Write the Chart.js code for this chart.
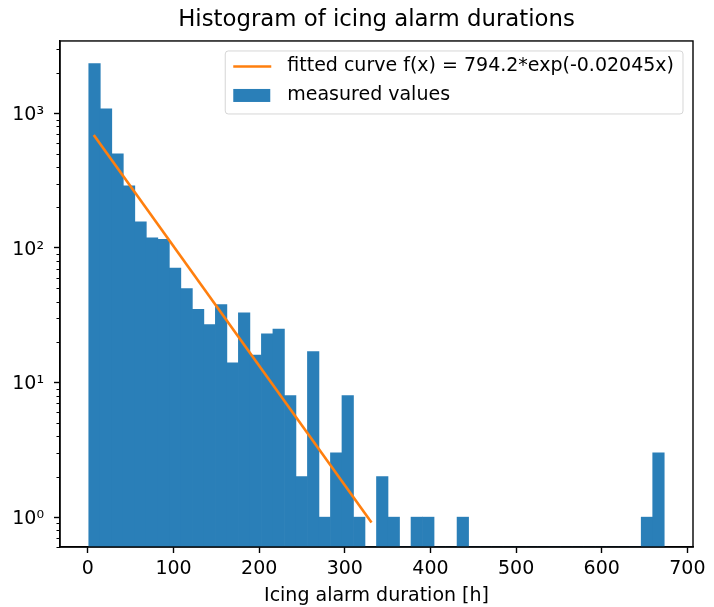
<html>
<head>
    <meta charset="utf-8" />
    <title>Histogram of icing alarm durations</title>
    <script src="https://cdn.jsdelivr.net/npm/chart.js"></script>
    <style>
        body { margin: 0; background: #fff; }
    </style>
</head>
<body>
<canvas id="hist" width="714" height="607"></canvas>

<script>
    // 50 bins between shortest and longest alarm [h]
    const binMin = 1;
    const binMax = 673;
    const counts = [
        2340, 1080, 500, 290, 156, 119, 116, 71, 50, 35,
        27, 38, 14, 33, 16, 23, 25, 8, 2, 17,
        1, 3, 8, 1, 0, 2, 1, 0, 1, 1,
        0, 0, 1, 0, 0, 0, 0, 0, 0, 0,
        0, 0, 0, 0, 0, 0, 0, 0, 1, 3
    ];

    // fitted curve, end points
    const curveX = [7.7, 330.3];
    const curveY = [678, 0.93];

    const xTicks = [0, 100, 200, 300, 400, 500, 600, 700];
    const yTicks = [1, 10, 100, 1000];
    const yTickLabels = ['10⁰', '10¹', '10²', '10³'];
    const yMin = 0.613;
    const yMax = 3450;

    const blue = '#2a7fb8';
    const orange = '#ff7f0e';

    Chart.defaults.font.family = "'DejaVu Sans'";
    Chart.defaults.color = '#000';

    const binWidth = (binMax - binMin) / counts.length;
    const margin = (binMax - binMin) * 0.05;

    const bars = counts.map((c, i) => ({x: binMin + (i + 0.5) * binWidth, y: c}));
    const curve = curveX.map((x, i) => ({x: x, y: curveY[i]}));

    // box around the plot, minor log ticks and the legend inside the axes
    const decorations = {
        id: 'decorations',
        afterDatasetsDraw(chart) {
            const c = chart.ctx;
            const area = chart.chartArea;
            const y = chart.scales.y;
            c.save();

            c.strokeStyle = '#000';
            c.lineWidth = 1;
            for (let k = -1; k <= 3; k++) {
                for (let m = 2; m <= 9; m++) {
                    const v = m * Math.pow(10, k);
                    if (v < y.min || v > y.max) continue;
                    const py = Math.round(y.getPixelForValue(v)) + 0.5;
                    c.beginPath();
                    c.moveTo(area.left - 3.5, py);
                    c.lineTo(area.left, py);
                    c.stroke();
                }
            }

            c.lineWidth = 1.4;
            c.strokeRect(area.left, area.top, area.right - area.left, area.bottom - area.top);

            c.font = "19px 'DejaVu Sans'";
            const sets = chart.data.datasets;
            const textW = Math.max(...sets.map(d => c.measureText(d.label).width));
            const w = 62 + textW + 9;
            const h = 63;
            const left = area.right - 10 - w;
            const top = area.top + 10;

            c.beginPath();
            if (c.roundRect) c.roundRect(left, top, w, h, 3); else c.rect(left, top, w, h);
            c.fillStyle = 'rgba(255,255,255,0.8)';
            c.fill();
            c.strokeStyle = 'rgba(204,204,204,0.8)';
            c.lineWidth = 1;
            c.stroke();

            c.textBaseline = 'middle';
            c.textAlign = 'left';
            sets.forEach((d, i) => {
                const cy = top + 15.5 + i * 29;
                if (d.type === 'line') {
                    c.strokeStyle = d.borderColor;
                    c.lineWidth = d.borderWidth;
                    c.beginPath();
                    c.moveTo(left + 8, cy);
                    c.lineTo(left + 46, cy);
                    c.stroke();
                } else {
                    c.fillStyle = d.backgroundColor;
                    c.fillRect(left + 8, cy - 6.5, 37, 13);
                }
                c.fillStyle = '#000';
                c.fillText(d.label, left + 62, cy);
            });
            c.restore();
        }
    };

    const ctx = document.getElementById('hist');

    new Chart(ctx, {
        type: 'bar',
        data: {
            datasets: [{
                type: 'line',
                label: 'fitted curve f(x) = 794.2*exp(-0.02045x)',
                data: curve,
                borderColor: orange,
                borderWidth: 2.6,
                borderCapStyle: 'square',
                pointRadius: 0,
                fill: false,
            }, {
                type: 'bar',
                label: 'measured values',
                data: bars,
                backgroundColor: blue,
                borderWidth: 0,
                barPercentage: 1,
                categoryPercentage: 1,
            }]
        },
        options: {
            responsive: false,
            animation: false,
            devicePixelRatio: 1,
            layout: {
                padding: {top: 0, right: 21, bottom: 0, left: 0}
            },
            plugins: {
                legend: {display: false},
                tooltip: {enabled: false},
                title: {
                    display: true,
                    fullSize: false,
                    text: 'Histogram of icing alarm durations',
                    color: '#000',
                    font: {size: 22.8, weight: 'normal'},
                    padding: {top: 6.3, bottom: 7.3},
                }
            },
            scales: {
                x: {
                    type: 'linear',
                    offset: false,
                    min: binMin - margin,
                    max: binMax + margin,
                    afterFit: (s) => { s.height = 60; },
                    afterBuildTicks: (s) => { s.ticks = xTicks.map(v => ({value: v})); },
                    ticks: {
                        font: {size: 19},
                        padding: 5,
                        maxRotation: 0,
                        autoSkip: false,
                        callback: (v) => v,
                    },
                    grid: {
                        offset: false,
                        drawOnChartArea: false,
                        tickLength: 6,
                        tickWidth: 1.4,
                        tickColor: '#000',
                    },
                    border: {color: '#000', width: 1.4},
                    title: {
                        display: true,
                        text: 'Icing alarm duration [h]',
                        font: {size: 19},
                        padding: {top: 0, bottom: 0},
                    }
                },
                y: {
                    type: 'logarithmic',
                    min: yMin,
                    max: yMax,
                    afterFit: (s) => { s.width = 60; },
                    afterBuildTicks: (s) => { s.ticks = yTicks.map(v => ({value: v})); },
                    ticks: {
                        font: {size: 19},
                        padding: 10,
                        labelOffset: 2,
                        autoSkip: false,
                        callback: (v, i) => yTickLabels[i],
                    },
                    grid: {
                        drawOnChartArea: false,
                        tickLength: 6,
                        tickWidth: 1.4,
                        tickColor: '#000',
                    },
                    border: {color: '#000', width: 1.4},
                }
            }
        },
        plugins: [decorations]
    });
</script>
</body>
</html>
